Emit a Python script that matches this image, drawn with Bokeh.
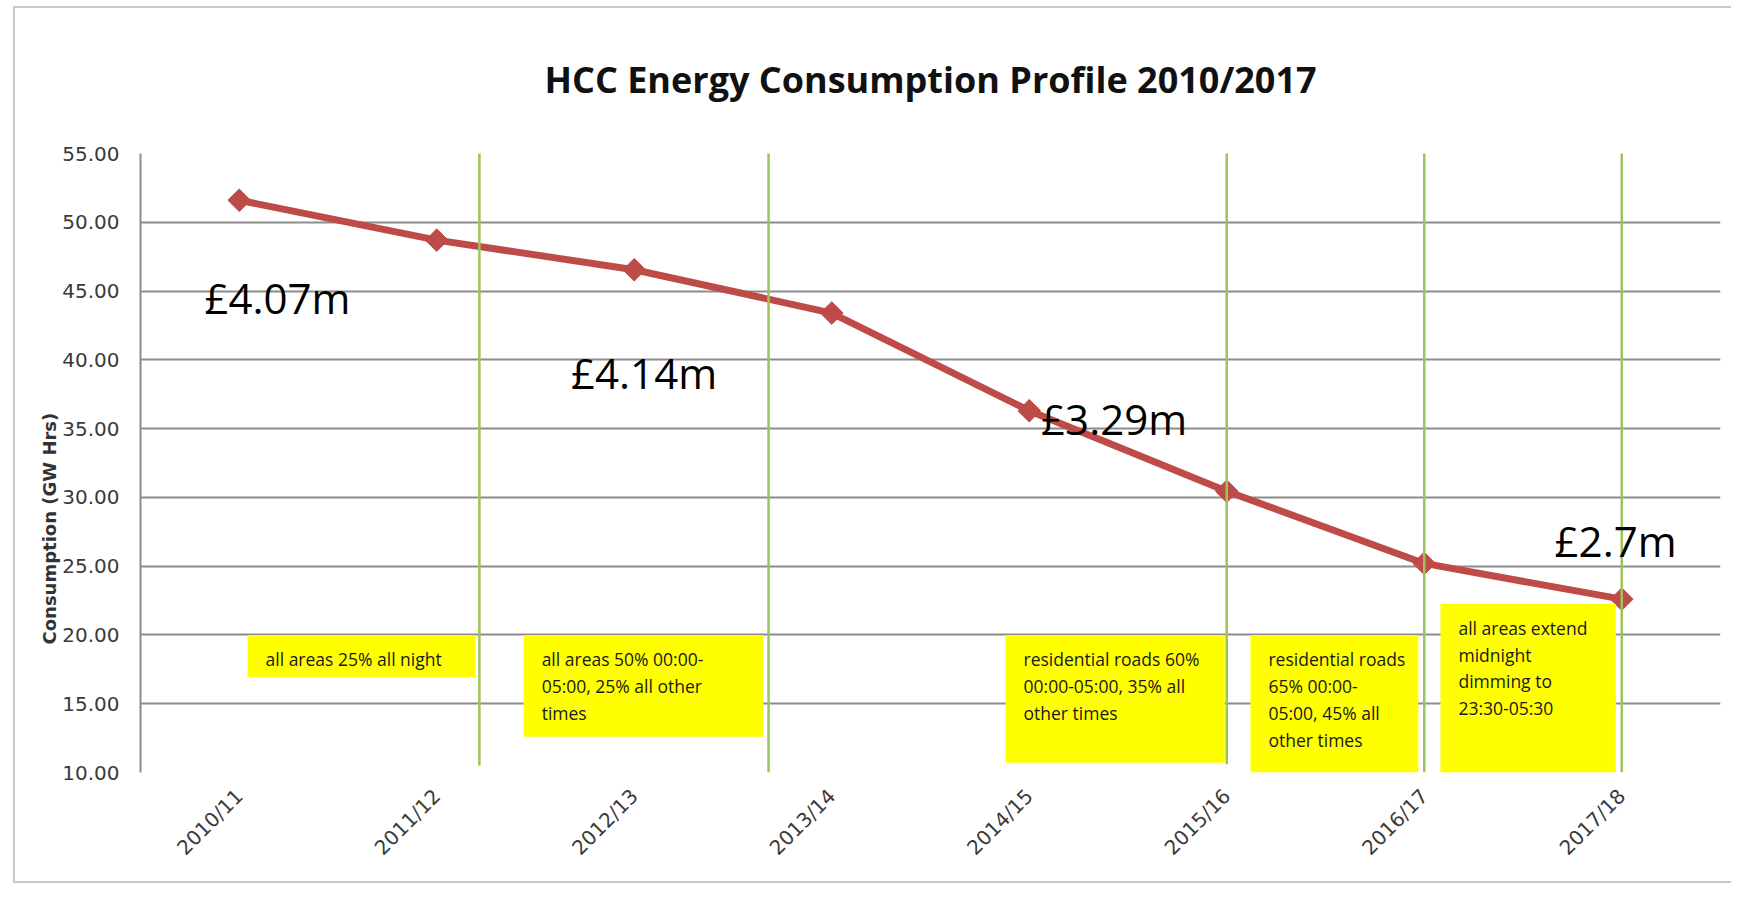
import math
from bokeh.plotting import figure
from bokeh.models import (FactorRange, Range1d, FixedTicker, NumeralTickFormatter,
                          CategoricalAxis, Title)
from bokeh.core.properties import value
from bokeh.embed import file_html
from bokeh.resources import INLINE

# ---------------- data ----------------
periods = ["2010/11", "2011/12", "2012/13", "2013/14",
           "2014/15", "2015/16", "2016/17", "2017/18"]
consumption = [51.6, 48.7, 46.55, 43.4, 36.3, 30.45, 25.2, 22.6]
y_ticks = [10, 15, 20, 25, 30, 35, 40, 45, 50, 55]

cost_labels = ["£4.07m", "£4.14m", "£3.29m", "£2.7m"]
notes = [
    "all areas 25% all night",
    "all areas 50% 00:00-\n05:00, 25% all other\ntimes",
    "residential roads 60%\n00:00-05:00, 35% all\nother times",
    "residential roads\n65% 00:00-\n05:00, 45% all\nother times",
    "all areas extend\nmidnight\ndimming to\n23:30-05:30",
]

# ---------------- annotation placement (category-axis synthetic coords / data y) ----------------
cost_x = [0.324, 2.18, 4.56, 7.16]
cost_y = [44.5, 39.05, 35.75, 26.9]

note_left = [0.542, 1.94, 4.38, 5.62, 6.582]
note_right = [1.696, 3.154, 5.49, 6.47, 7.47]
note_top = [20.0, 20.0, 20.0, 20.0, 22.27]
note_bottom = [16.95, 12.6, 10.7, 10.0, 10.0]

divider_x = [1.716, 3.18, 5.5, 6.5, 7.5]
divider_top = [55.2, 55.2, 55.2, 55.2, 55.2]
divider_bottom = [10.5, 10.0, 10.6, 10.0, 10.0]

# ---------------- figure ----------------
GRID = "#8c8c8c"
RED = "#BE4B48"
BORDER = "#c8c8c8"

p = figure(width=1731, height=885,
           x_range=FactorRange(factors=periods),
           y_range=Range1d(10, 55),
           x_axis_location=None,
           output_backend="svg", toolbar_location=None,
           min_border_left=140, min_border_right=11,
           min_border_top=153, min_border_bottom=113,
           title="HCC Energy Consumption Profile 2010/2017")

p.title.align = "center"
p.title.text_font = "Open Sans"
p.title.text_font_style = "bold"
p.title.text_font_size = "36px"
p.title.text_color = "#111111"
p.title.standoff = 100

p.outline_line_color = None
p.background_fill_color = "white"
p.border_fill_color = None
p.styles = {
    "background-color": "white",
    "background-image": ("linear-gradient(%s, %s), linear-gradient(%s, %s), "
                         "linear-gradient(%s, %s)") % ((BORDER,) * 6),
    "background-size": "2px 877px, 1740px 2px, 1740px 2px",
    "background-position": "13px 6px, 13px 6px, 13px 881px",
    "background-repeat": "no-repeat",
}

# y axis
p.yaxis.ticker = FixedTicker(ticks=y_ticks)
p.yaxis.formatter = NumeralTickFormatter(format="0.00")
p.yaxis.major_tick_line_color = None
p.yaxis.minor_tick_line_color = None
p.yaxis.axis_line_color = GRID
p.yaxis.axis_line_width = 2
p.yaxis.major_label_text_font = "DejaVu Sans"
p.yaxis.major_label_text_font_size = "20px"
p.yaxis.major_label_text_color = "#3a3a3a"
p.yaxis.major_label_standoff = 15

p.ygrid.grid_line_color = GRID
p.ygrid.grid_line_width = 2
p.xgrid.grid_line_color = None

# category axis
xaxis = CategoricalAxis(axis_line_color=None,
                        major_tick_line_color=None, minor_tick_line_color=None,
                        major_tick_in=0, major_tick_out=0,
                        major_label_orientation=math.pi / 4,
                        major_label_text_font="DejaVu Sans",
                        major_label_text_font_size="20px",
                        major_label_text_color="#3a3a3a",
                        major_label_standoff=20)
p.add_layout(xaxis, "below")

# y axis title
p.add_layout(Title(text="Consumption (GW Hrs)", align="left", offset=128,
                   standoff=0, text_font="DejaVu Sans", text_font_style="bold",
                   text_font_size="18px", text_color="#333333"), "left")

# series
p.line(x=periods, y=consumption, line_color=RED, line_width=7)
p.scatter(x=periods, y=consumption, marker="square", size=16, angle=math.pi / 4,
          fill_color=RED, line_color=RED)

# green divider lines (drawn over the series, like the sheet shapes)
p.segment(x0=divider_x, y0=divider_bottom, x1=divider_x, y1=divider_top,
          line_color="#9DC35B", line_width=2.5)

# yellow note boxes
p.quad(left=note_left, right=note_right, top=note_top, bottom=note_bottom,
       fill_color="#FFFF00", line_color=None)
p.text(x=note_left, y=note_top, text=notes, x_offset=18, y_offset=12,
       text_baseline="top", text_align="left", text_font=value("Open Sans"),
       text_font_size="17.5px", text_line_height=1.12, text_color="#1a1a1a")

# cost labels
p.text(x=cost_x, y=cost_y, text=cost_labels, text_baseline="alphabetic",
       text_align="left", text_font=value("Open Sans"), text_font_size="42px",
       text_color="black")

open("out.html", "w").write(file_html(p, INLINE))
